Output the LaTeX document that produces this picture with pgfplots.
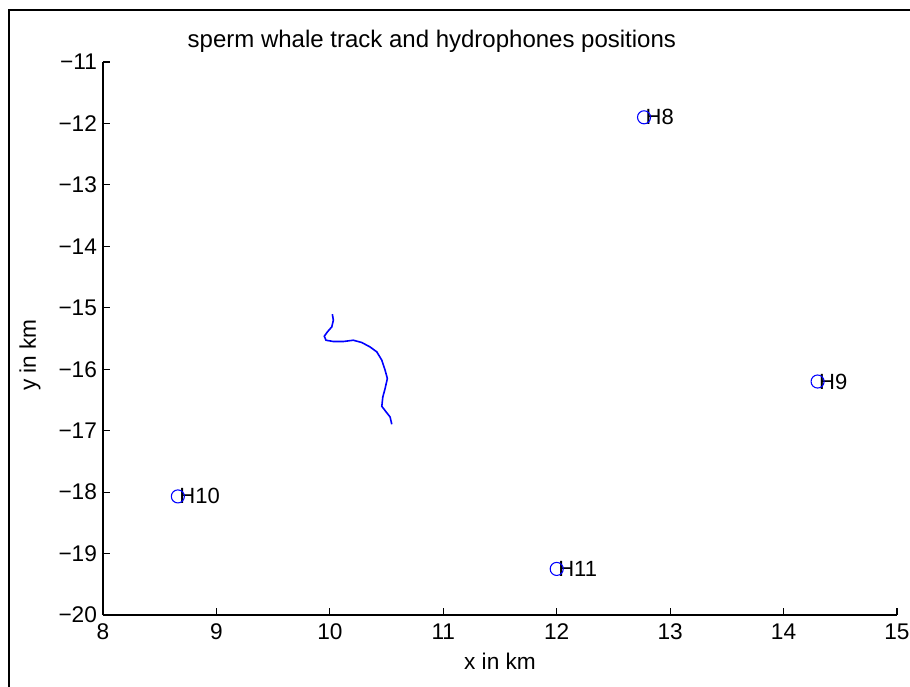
\documentclass[border=0pt]{standalone}
\usepackage{pgfplots}
\pgfplotsset{compat=1.18}
\usepackage{fontspec}
\setmainfont{Liberation Sans}
\definecolor{mblue}{RGB}{0,0,255}
\begin{document}
\begin{tikzpicture}
\path[use as bounding box] (-77.25pt,-53.25pt) rectangle (605.25pt,461.25pt);
\begin{axis}[
  at={(0,0)}, anchor=south west,
  scale only axis, width=595.5pt, height=414.75pt,
  xmin=8, xmax=15, ymin=-20, ymax=-11,
  axis x line*=bottom, axis y line*=left,
  axis line style={-, line width=0.8pt},
  tick align=inside, major tick length=5pt,
  tick style={line width=0.8pt, black},
  xtick={8,...,15}, xticklabels={8,9,10,11,12,13,14,15},
  ytick={-20,...,-11},
  yticklabels={−20,−19,−18,−17,−16,−15,−14,−13,−12,−11},
  ticklabel style={font=\fontsize{17}{20}\selectfont},
  xticklabel style={yshift=-3pt},
  yticklabel style={xshift=-1pt},
  xlabel={x in km}, ylabel={y in km},
  label style={font=\fontsize{17}{20}\selectfont},
  xlabel style={at={(axis description cs:0.5,-0.083)}, anchor=center},
  ylabel style={at={(axis description cs:-0.092,0.47)}, anchor=center},
  clip=false,
]
\addplot[mblue, line width=1.2pt] coordinates {
(10.022,-15.104) (10.031,-15.202) (10.017,-15.311) (9.978,-15.393)
(9.951,-15.463) (9.966,-15.528) (10.031,-15.549) (10.119,-15.549)
(10.207,-15.528) (10.281,-15.565) (10.354,-15.637) (10.414,-15.718)
(10.458,-15.853) (10.487,-16.016) (10.507,-16.151) (10.487,-16.314)
(10.467,-16.451) (10.458,-16.603) (10.496,-16.695) (10.531,-16.777)
(10.546,-16.896)
};
\addplot[only marks, mark=o, mblue, mark size=4.9pt, mark options={line width=0.8pt}] coordinates {
(12.77,-11.9) (14.30,-16.2) (8.66,-18.07) (12.0,-19.25)
};
\foreach \xx/\yy/\nn in {12.77/-11.9/H8, 14.30/-16.2/H9, 8.66/-18.07/H10, 12.0/-19.25/H11}{
  \edef\tmp{\noexpand\node[anchor=west, inner sep=1pt, font=\noexpand\fontsize{16.5}{19}\noexpand\selectfont] at (axis cs:\xx,\yy) {\nn};}
  \tmp
}
\node[anchor=base west, font=\fontsize{18}{21}\selectfont] at (rel axis cs:0.1008,1.026) {sperm whale track and hydrophones positions};
\end{axis}
\draw[line width=1.5pt] (-70.5pt,-60pt) -- (-70.5pt,453.75pt) -- (620pt,453.75pt);
\end{tikzpicture}
\end{document}
